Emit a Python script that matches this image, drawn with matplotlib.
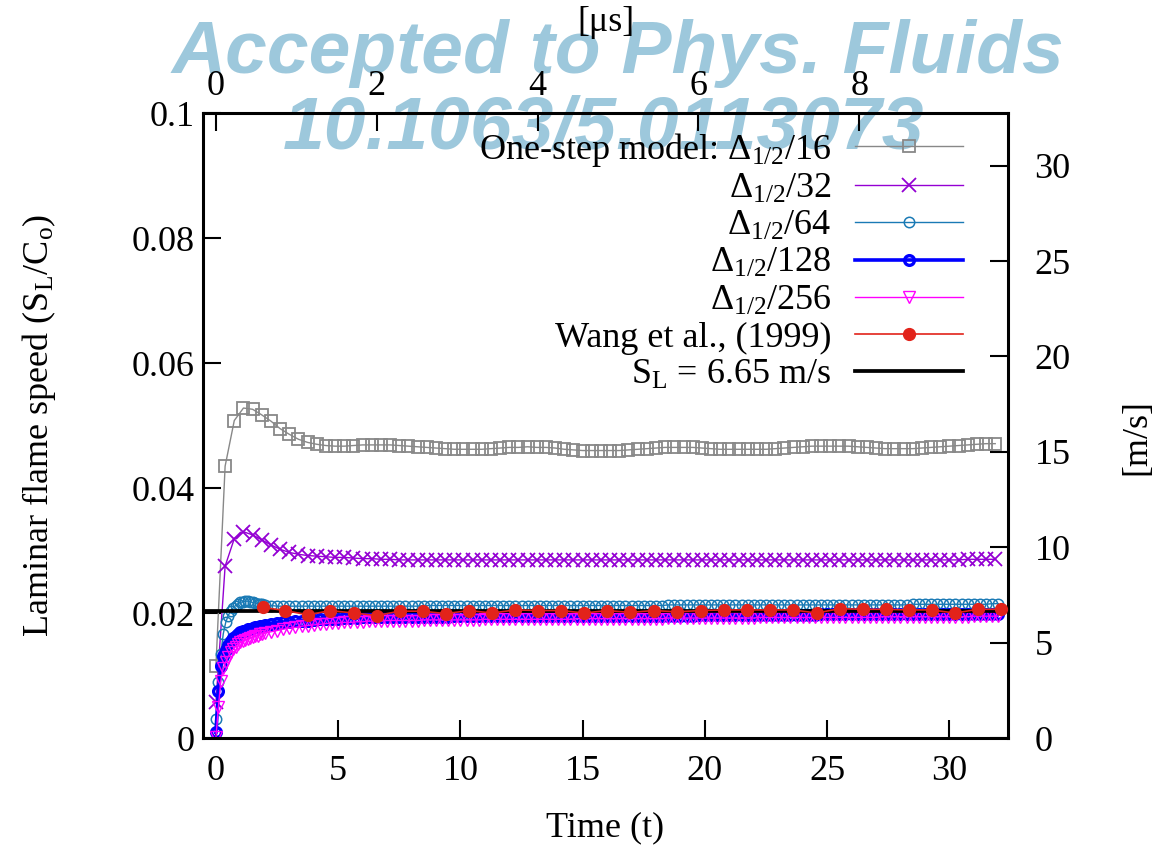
import numpy as np
import matplotlib
matplotlib.use("Agg")
import matplotlib.pyplot as plt
from matplotlib.ticker import FuncFormatter

plt.rcParams["font.family"] = ["Liberation Serif", "DejaVu Serif"]
plt.rcParams["mathtext.fontset"] = "custom"
plt.rcParams["mathtext.rm"] = "Liberation Serif"
plt.rcParams["mathtext.it"] = "Liberation Serif:italic"
plt.rcParams["mathtext.bf"] = "Liberation Serif:bold"

# one-step model runs, output every 0.375 t
t_coarse = np.arange(0, 32, 0.375)
d16 = [
    0.0116, 0.0435, 0.0508, 0.0528, 0.0526, 0.0517, 0.0507, 0.0495,
    0.0486, 0.0478, 0.0473, 0.0470, 0.0468, 0.0467, 0.0467, 0.0468,
    0.0469, 0.0469, 0.0469, 0.0469, 0.0468, 0.0467, 0.0466, 0.0465,
    0.0464, 0.0463, 0.0462, 0.0462, 0.0462, 0.0462, 0.0463, 0.0464,
    0.0465, 0.0465, 0.0466, 0.0465, 0.0465, 0.0464, 0.0462, 0.0461,
    0.0460, 0.0460, 0.0460, 0.0460, 0.0460, 0.0461, 0.0462, 0.0463,
    0.0464, 0.0465, 0.0465, 0.0465, 0.0465, 0.0464, 0.0463, 0.0462,
    0.0462, 0.0462, 0.0462, 0.0462, 0.0462, 0.0463, 0.0464, 0.0465,
    0.0466, 0.0467, 0.0467, 0.0467, 0.0467, 0.0467, 0.0466, 0.0465,
    0.0464, 0.0463, 0.0463, 0.0463, 0.0463, 0.0464, 0.0465, 0.0466,
    0.0467, 0.0468, 0.0469, 0.0470, 0.0471, 0.0471,
]
d32 = [
    0.0057, 0.0275, 0.0319, 0.0330, 0.0325, 0.0317, 0.0309, 0.0302,
    0.0297, 0.0294, 0.0292, 0.0291, 0.0290, 0.0289, 0.0289, 0.0288,
    0.0287, 0.0287, 0.0286, 0.0286, 0.0285, 0.0285, 0.0285, 0.0285,
    0.0285, 0.0285, 0.0285, 0.0285, 0.0285, 0.0285, 0.0285, 0.0285,
    0.0285, 0.0285, 0.0285, 0.0285, 0.0285, 0.0285, 0.0285, 0.0285,
    0.0285, 0.0285, 0.0285, 0.0285, 0.0285, 0.0285, 0.0285, 0.0285,
    0.0285, 0.0285, 0.0285, 0.0285, 0.0285, 0.0285, 0.0285, 0.0285,
    0.0285, 0.0285, 0.0285, 0.0285, 0.0285, 0.0285, 0.0285, 0.0285,
    0.0285, 0.0285, 0.0285, 0.0285, 0.0285, 0.0285, 0.0285, 0.0285,
    0.0285, 0.0285, 0.0285, 0.0285, 0.0285, 0.0285, 0.0285, 0.0285,
    0.0285, 0.0285, 0.0286, 0.0286, 0.0286, 0.0286,
]

# finer runs: every 0.1 t up to t=2, then every 0.25 t
t_fine = np.concatenate([np.arange(0, 2.05, 0.1), np.arange(2.25, 32.1, 0.25)])
d64 = [
    0.0030, 0.0090, 0.0135, 0.0167, 0.0185, 0.0196, 0.0203, 0.0208,
    0.0212, 0.0215, 0.0217, 0.0218, 0.0219, 0.0219, 0.0218, 0.0217,
    0.0216, 0.0215, 0.0214, 0.0214, 0.0213,
    0.0212, 0.0211, 0.0211, 0.0211, 0.0211, 0.0211, 0.0211, 0.0211, 0.0211, 0.0211,
    0.0211, 0.0211, 0.0211, 0.0211, 0.0211, 0.0211, 0.0211, 0.0211, 0.0211, 0.0211,
    0.0211, 0.0211, 0.0211, 0.0211, 0.0211, 0.0212, 0.0212, 0.0212, 0.0212, 0.0212,
    0.0212, 0.0212, 0.0212, 0.0212, 0.0212, 0.0212, 0.0212, 0.0212, 0.0212, 0.0212,
    0.0212, 0.0212, 0.0212, 0.0212, 0.0212, 0.0212, 0.0212, 0.0212, 0.0212, 0.0212,
    0.0212, 0.0212, 0.0212, 0.0212, 0.0212, 0.0212, 0.0212, 0.0212, 0.0212, 0.0212,
    0.0212, 0.0212, 0.0212, 0.0212, 0.0212, 0.0213, 0.0213, 0.0213, 0.0213, 0.0213,
    0.0213, 0.0213, 0.0213, 0.0213, 0.0213, 0.0213, 0.0213, 0.0213, 0.0213, 0.0213,
    0.0213, 0.0213, 0.0213, 0.0213, 0.0213, 0.0213, 0.0213, 0.0213, 0.0213, 0.0213,
    0.0213, 0.0213, 0.0213, 0.0213, 0.0213, 0.0213, 0.0213, 0.0213, 0.0213, 0.0213,
    0.0213, 0.0213, 0.0213, 0.0213, 0.0213, 0.0214, 0.0214, 0.0214, 0.0214, 0.0214,
    0.0214, 0.0214, 0.0214, 0.0214, 0.0214, 0.0214, 0.0214, 0.0214, 0.0215, 0.0215,
]
d128 = [
    0.0009, 0.0075, 0.0115, 0.0132, 0.0141, 0.0149, 0.0155, 0.0160,
    0.0164, 0.0167, 0.0169, 0.0171, 0.0172, 0.0174, 0.0175, 0.0176,
    0.0177, 0.0178, 0.0179, 0.0180, 0.0181,
    0.0182, 0.0184, 0.0185, 0.0186, 0.0187, 0.0188, 0.0188, 0.0189, 0.0190, 0.0190,
    0.0191, 0.0191, 0.0192, 0.0192, 0.0192, 0.0193, 0.0193, 0.0193, 0.0193, 0.0194,
    0.0194, 0.0194, 0.0194, 0.0194, 0.0194, 0.0194, 0.0194, 0.0194, 0.0194, 0.0194,
    0.0195, 0.0195, 0.0195, 0.0195, 0.0195, 0.0195, 0.0195, 0.0195, 0.0195, 0.0195,
    0.0195, 0.0195, 0.0195, 0.0195, 0.0195, 0.0195, 0.0195, 0.0195, 0.0195, 0.0195,
    0.0196, 0.0196, 0.0196, 0.0196, 0.0196, 0.0196, 0.0196, 0.0196, 0.0196, 0.0196,
    0.0196, 0.0196, 0.0196, 0.0196, 0.0196, 0.0196, 0.0196, 0.0196, 0.0196, 0.0196,
    0.0197, 0.0197, 0.0197, 0.0197, 0.0197, 0.0197, 0.0197, 0.0197, 0.0197, 0.0197,
    0.0197, 0.0197, 0.0197, 0.0197, 0.0197, 0.0197, 0.0197, 0.0197, 0.0197, 0.0197,
    0.0198, 0.0198, 0.0198, 0.0198, 0.0198, 0.0198, 0.0198, 0.0198, 0.0198, 0.0198,
    0.0198, 0.0198, 0.0198, 0.0198, 0.0198, 0.0198, 0.0198, 0.0198, 0.0198, 0.0198,
    0.0199, 0.0199, 0.0199, 0.0199, 0.0199, 0.0199, 0.0199, 0.0199, 0.0199, 0.0199,
]
d256 = [
    0.0001, 0.0050, 0.0092, 0.0112, 0.0122, 0.0130, 0.0137, 0.0142,
    0.0146, 0.0150, 0.0153, 0.0155, 0.0157, 0.0159, 0.0160, 0.0162,
    0.0163, 0.0164, 0.0166, 0.0167, 0.0168,
    0.0170, 0.0172, 0.0174, 0.0176, 0.0177, 0.0179, 0.0180, 0.0181, 0.0182, 0.0183,
    0.0184, 0.0184, 0.0185, 0.0185, 0.0186, 0.0186, 0.0187, 0.0187, 0.0187, 0.0188,
    0.0188, 0.0188, 0.0188, 0.0188, 0.0188, 0.0189, 0.0189, 0.0189, 0.0189, 0.0189,
    0.0189, 0.0189, 0.0189, 0.0189, 0.0189, 0.0190, 0.0190, 0.0190, 0.0190, 0.0190,
    0.0190, 0.0190, 0.0190, 0.0190, 0.0190, 0.0190, 0.0190, 0.0190, 0.0190, 0.0190,
    0.0191, 0.0191, 0.0191, 0.0191, 0.0191, 0.0191, 0.0191, 0.0191, 0.0191, 0.0191,
    0.0191, 0.0191, 0.0191, 0.0191, 0.0191, 0.0192, 0.0192, 0.0192, 0.0192, 0.0192,
    0.0192, 0.0192, 0.0192, 0.0192, 0.0192, 0.0192, 0.0192, 0.0192, 0.0192, 0.0192,
    0.0193, 0.0193, 0.0193, 0.0193, 0.0193, 0.0193, 0.0193, 0.0193, 0.0193, 0.0193,
    0.0193, 0.0193, 0.0193, 0.0193, 0.0193, 0.0193, 0.0193, 0.0193, 0.0193, 0.0193,
    0.0194, 0.0194, 0.0194, 0.0194, 0.0194, 0.0194, 0.0194, 0.0194, 0.0194, 0.0194,
    0.0194, 0.0194, 0.0194, 0.0194, 0.0194, 0.0195, 0.0195, 0.0195, 0.0195, 0.0195,
]

# Wang et al. (1999)
t_wang = [
    1.91, 2.83, 3.77, 4.67, 5.63, 6.59, 7.51, 8.45, 9.40, 10.35, 11.30,
    12.24, 13.19, 14.13, 15.07, 16.00, 16.95, 17.90, 18.84, 19.84, 20.77,
    21.73, 22.67, 23.61, 24.57, 25.51, 26.45, 27.40, 28.34, 29.28, 30.22,
    31.18, 32.13,
]
wang = [
    0.0209, 0.0204, 0.0197, 0.0204, 0.0200, 0.0196, 0.0203, 0.0203, 0.0199, 0.0204, 0.0200,
    0.0205, 0.0204, 0.0204, 0.0200, 0.0204, 0.0201, 0.0204, 0.0202, 0.0204, 0.0205,
    0.0205, 0.0205, 0.0205, 0.0200, 0.0207, 0.0206, 0.0206, 0.0205, 0.0205, 0.0200,
    0.0206, 0.0206,
]

SL = 0.0203          # 6.65 m/s in units of C0
C0 = 6.65 / SL       # m/s
T_US = 0.304         # microseconds per time unit

labels = [
    r"One-step model: $\mathrm{\Delta_{1/2}/16}$",
    r"$\mathrm{\Delta_{1/2}/32}$",
    r"$\mathrm{\Delta_{1/2}/64}$",
    r"$\mathrm{\Delta_{1/2}/128}$",
    r"$\mathrm{\Delta_{1/2}/256}$",
    "Wang et al., (1999)",
    r"$\mathrm{S_L}$ = 6.65 m/s",
]

FS = 26

fig = plt.figure(figsize=(11.72, 8.55), dpi=100)
ax = fig.add_axes([0.1732, 0.1368, 0.6869, 0.7310])
ax.set_facecolor("none")

ax.plot(t_coarse, d16, color="#888888", lw=1.0, marker="s", ms=8.5, mfc="none", mew=1.3, label=labels[0])
ax.plot(t_coarse, d32, color="#9400d3", lw=1.0, marker="x", ms=9.5, mew=1.3, label=labels[1])
ax.plot(t_fine, d64, color="#1a7ab5", lw=1.0, marker="o", ms=7.5, mfc="none", mew=1.1, label=labels[2])
ax.plot(t_fine, d128, color="#0000ff", lw=2.6, marker="o", ms=7.0, mfc="none", mew=2.4, label=labels[3])
ax.plot(t_fine, d256, color="#ff00ff", lw=1.0, marker="v", ms=8, mfc="none", mew=1.0, label=labels[4])
ax.plot(t_wang, wang, color="#e2231a", lw=1.2, marker="o", ms=8.5, label=labels[5], zorder=3)
ax.axhline(SL, color="black", lw=2.7, label=labels[6], zorder=2.5)

ax.set_xlim(-0.53, 32.4)
ax.set_ylim(0, 0.1)
ax.set_xticks([0, 5, 10, 15, 20, 25, 30])
ax.set_yticks([0, 0.02, 0.04, 0.06, 0.08, 0.1])
ax.yaxis.set_major_formatter(FuncFormatter(lambda v, p: f"{v:g}"))
for s in ax.spines.values():
    s.set_linewidth(2.2)
ax.tick_params(direction="in", length=13, width=1.5, labelsize=FS)
ax.tick_params(axis="y", pad=6)
ax.tick_params(axis="x", pad=12)

ax.set_xlabel("Time (t)", fontsize=FS)
ax.xaxis.set_label_coords(0.5, -0.118)
ax.set_ylabel(r"Laminar flame speed ($\mathrm{S_L/C_o}$)", fontsize=FS)
ax.yaxis.set_label_coords(-0.180, 0.5)

top = ax.secondary_xaxis("top", functions=(lambda t: t * T_US, lambda u: u / T_US))
top.set_xticks([0, 2, 4, 6, 8])
top.tick_params(direction="in", length=13, width=1.5, labelsize=FS, pad=7.5)
top.set_xlabel("[μs]", fontsize=FS)
top.xaxis.set_label_coords(0.5, 1.132, transform=ax.transAxes)

right = ax.secondary_yaxis("right", functions=(lambda y: y * C0, lambda v: v / C0))
right.set_yticks([0, 5, 10, 15, 20, 25, 30])
right.tick_params(direction="in", length=13, width=1.5, labelsize=FS, pad=19)
right.set_ylabel("[m/s]", fontsize=FS)
right.yaxis.set_label_coords(1.139, 0.482, transform=ax.transAxes)

ax.legend(loc="upper right", bbox_to_anchor=(0.944, 0.972), frameon=False,
          markerfirst=False, numpoints=1, fontsize=FS, handlelength=3.0,
          handletextpad=0.64, labelspacing=0.11, borderpad=0, borderaxespad=0)

wm = dict(ha="center", va="baseline", fontsize=54, fontweight="bold",
          fontstyle="italic", family="Liberation Sans", color="#9dc8dc", zorder=-1)
fig.text(0.527, 1 - 73 / 855, "Accepted to Phys. Fluids", **wm)
fig.text(0.515, 1 - 148 / 855, "10.1063/5.0113073", **wm)

fig.savefig("out.png", dpi=100)
